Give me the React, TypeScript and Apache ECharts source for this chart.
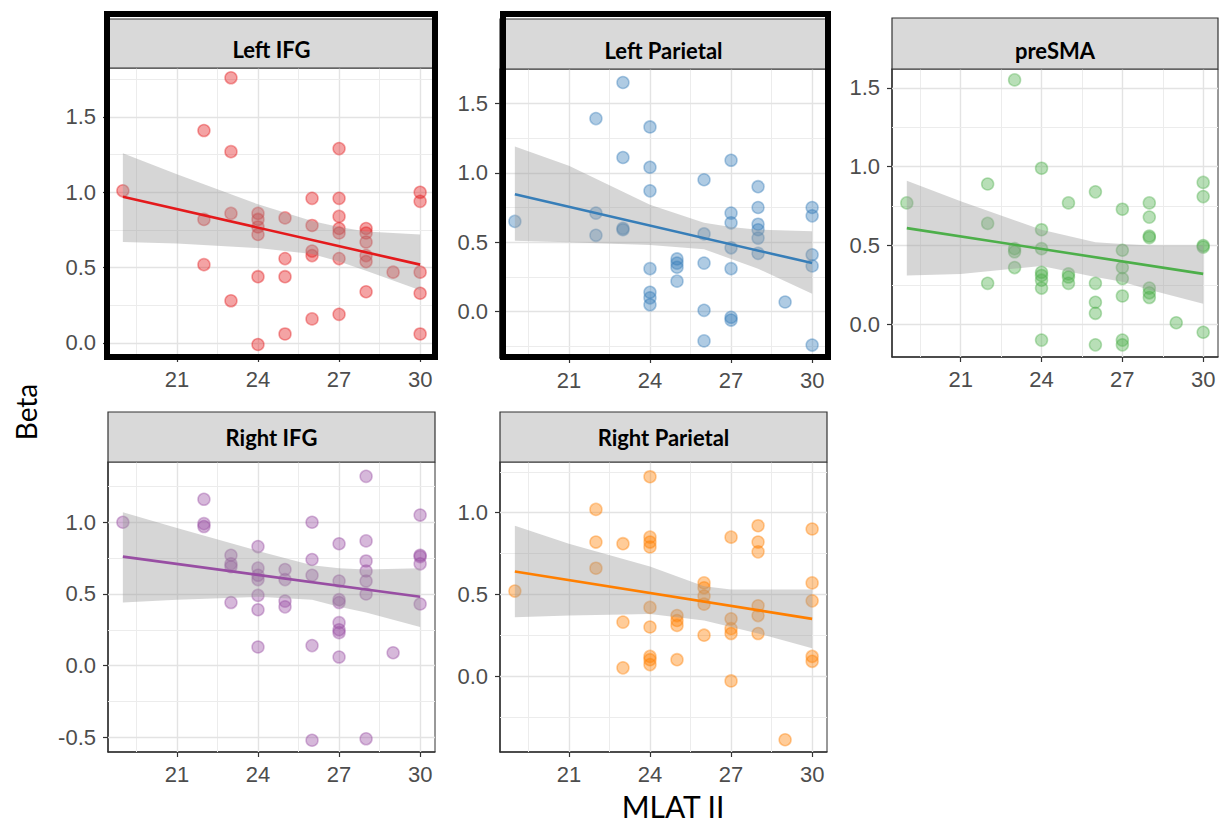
import React, { useEffect, useRef } from "react";
import * as echarts from "echarts";

// ---------------- DATA ----------------
const panelTitles = ["Left IFG", "Left Parietal", "preSMA", "Right IFG", "Right Parietal"];
const panelColors = ["#E41A1C", "#377EB8", "#4DAF4A", "#984EA3", "#FF7F00"];

// points: [MLAT II, Beta]
const leftIFG: number[][] = [
  [19, 1.01],
  [22, 1.41], [22, 0.82], [22, 0.52],
  [23, 1.76], [23, 1.27], [23, 0.86], [23, 0.28],
  [24, 0.86], [24, 0.82], [24, 0.77], [24, 0.72], [24, 0.44], [24, -0.01],
  [25, 0.83], [25, 0.56], [25, 0.44], [25, 0.06],
  [26, 0.96], [26, 0.78], [26, 0.61], [26, 0.58], [26, 0.16],
  [27, 1.29], [27, 0.96], [27, 0.84], [27, 0.76], [27, 0.73], [27, 0.56], [27, 0.19],
  [28, 0.76], [28, 0.73], [28, 0.67], [28, 0.58], [28, 0.54], [28, 0.34],
  [29, 0.47],
  [30, 1.0], [30, 0.94], [30, 0.47], [30, 0.33], [30, 0.06],
];
const leftParietal: number[][] = [
  [19, 0.65],
  [22, 1.39], [22, 0.71], [22, 0.55],
  [23, 1.65], [23, 1.11], [23, 0.6], [23, 0.59],
  [24, 1.33], [24, 1.04], [24, 0.87], [24, 0.31], [24, 0.14], [24, 0.1], [24, 0.05],
  [25, 0.38], [25, 0.35], [25, 0.32], [25, 0.22],
  [26, 0.95], [26, 0.56], [26, 0.35], [26, 0.01], [26, -0.21],
  [27, 1.09], [27, 0.71], [27, 0.64], [27, 0.46], [27, 0.31], [27, -0.04], [27, -0.06],
  [28, 0.9], [28, 0.75], [28, 0.63], [28, 0.59], [28, 0.53], [28, 0.42],
  [29, 0.07],
  [30, 0.75], [30, 0.69], [30, 0.41], [30, 0.33], [30, -0.24],
];
const preSMA: number[][] = [
  [19, 0.77],
  [22, 0.89], [22, 0.64], [22, 0.26],
  [23, 1.55], [23, 0.48], [23, 0.46], [23, 0.36],
  [24, 0.99], [24, 0.6], [24, 0.48], [24, 0.33], [24, 0.31], [24, 0.28], [24, 0.23], [24, -0.1],
  [25, 0.77], [25, 0.32], [25, 0.3], [25, 0.26],
  [26, 0.84], [26, 0.26], [26, 0.14], [26, 0.07], [26, -0.13],
  [27, 0.73], [27, 0.47], [27, 0.36], [27, 0.29], [27, 0.18], [27, -0.1], [27, -0.13],
  [28, 0.77], [28, 0.68], [28, 0.56], [28, 0.55], [28, 0.23], [28, 0.2], [28, 0.17],
  [29, 0.01],
  [30, 0.9], [30, 0.81], [30, 0.5], [30, 0.49], [30, -0.05],
];
const rightIFG: number[][] = [
  [19, 1.0],
  [22, 1.16], [22, 0.99], [22, 0.97],
  [23, 0.77], [23, 0.71], [23, 0.69], [23, 0.44],
  [24, 0.83], [24, 0.68], [24, 0.63], [24, 0.6], [24, 0.49], [24, 0.39], [24, 0.13],
  [25, 0.67], [25, 0.6], [25, 0.45], [25, 0.41],
  [26, 1.0], [26, 0.74], [26, 0.63], [26, 0.14], [26, -0.52],
  [27, 0.85], [27, 0.59], [27, 0.46], [27, 0.44], [27, 0.3], [27, 0.25], [27, 0.23], [27, 0.06],
  [28, 1.32], [28, 0.87], [28, 0.73], [28, 0.66], [28, 0.59], [28, 0.5], [28, -0.51],
  [29, 0.09],
  [30, 1.05], [30, 0.77], [30, 0.76], [30, 0.71], [30, 0.43],
];
const rightParietal: number[][] = [
  [19, 0.52],
  [22, 1.02], [22, 0.82], [22, 0.66],
  [23, 0.81], [23, 0.33], [23, 0.05],
  [24, 1.22], [24, 0.85], [24, 0.82], [24, 0.79], [24, 0.42], [24, 0.3], [24, 0.12], [24, 0.1], [24, 0.07],
  [25, 0.37], [25, 0.34], [25, 0.31], [25, 0.1],
  [26, 0.57], [26, 0.54], [26, 0.49], [26, 0.44], [26, 0.25],
  [27, 0.85], [27, 0.35], [27, 0.29], [27, 0.26], [27, -0.03],
  [28, 0.92], [28, 0.82], [28, 0.76], [28, 0.43], [28, 0.37], [28, 0.26],
  [29, -0.39],
  [30, 0.9], [30, 0.57], [30, 0.46], [30, 0.12], [30, 0.09],
];
const panelPoints = [leftIFG, leftParietal, preSMA, rightIFG, rightParietal];

// fitted regression lines (endpoints at x = 19 and x = 30)
const fitX = [19, 30];
const fitY = [
  [0.97, 0.52],
  [0.845, 0.35],
  [0.61, 0.32],
  [0.76, 0.48],
  [0.64, 0.35],
];

// confidence bands read at these x values
const bandX = [19, 21, 24, 26, 27, 28, 30];
const bandUpper = [
  [1.26, 1.12, 0.92, 0.81, 0.77, 0.74, 0.72],
  [1.19, 1.05, 0.77, 0.64, 0.61, 0.59, 0.58],
  [0.91, 0.78, 0.6, 0.52, 0.51, 0.5, 0.5],
  [1.07, 0.96, 0.8, 0.7, 0.68, 0.67, 0.68],
  [0.92, 0.81, 0.67, 0.55, 0.53, 0.53, 0.53],
];
const bandLower = [
  [0.67, 0.66, 0.63, 0.59, 0.54, 0.48, 0.35],
  [0.51, 0.5, 0.48, 0.45, 0.38, 0.31, 0.13],
  [0.31, 0.32, 0.37, 0.3, 0.27, 0.22, 0.13],
  [0.44, 0.46, 0.48, 0.46, 0.41, 0.37, 0.27],
  [0.36, 0.37, 0.38, 0.34, 0.3, 0.26, 0.17],
];

// axis ticks
const xTicks = [21, 24, 27, 30];
const xMinorGrid = [19.5, 22.5, 25.5, 28.5];
const yTicks = [
  [0, 0.5, 1.0, 1.5],
  [0, 0.5, 1.0, 1.5],
  [0, 0.5, 1.0, 1.5],
  [-0.5, 0, 0.5, 1.0],
  [0, 0.5, 1.0],
];
const yMinorGrid = [
  [0.25, 0.75, 1.25, 1.75],
  [-0.25, 0.25, 0.75, 1.25],
  [0.25, 0.75, 1.25],
  [-0.25, 0.25, 0.75, 1.25],
  [-0.25, 0.25, 0.75, 1.25],
];

// ---------------- LAYOUT ----------------
const X_RANGE = [18.45, 30.55];
const yRanges = [
  [-0.093, 1.825],
  [-0.333, 1.747],
  [-0.207, 1.619],
  [-0.602, 1.42],
  [-0.465, 1.31],
];
const gridBoxes = [
  { left: 108, top: 68, width: 327, height: 289 },
  { left: 500, top: 69, width: 327, height: 289 },
  { left: 892, top: 69, width: 326, height: 288 },
  { left: 108, top: 462, width: 327, height: 290 },
  { left: 500, top: 462, width: 327, height: 290 },
];
const stripBoxes = [
  { x: 108, y: 19, w: 327, h: 49, ty: 49 },
  { x: 500, y: 19, w: 327, h: 50, ty: 50 },
  { x: 892, y: 18, w: 326, h: 51, ty: 50 },
  { x: 108, y: 412, w: 327, h: 50, ty: 437 },
  { x: 500, y: 412, w: 327, h: 50, ty: 437 },
];

function rgba(hex: string, a: number) {
  const r = parseInt(hex.slice(1, 3), 16);
  const g = parseInt(hex.slice(3, 5), 16);
  const b = parseInt(hex.slice(5, 7), 16);
  return `rgba(${r},${g},${b},${a})`;
}

const TICK_FONT = "'Liberation Sans', Arial, sans-serif";
const TITLE_FONT = "Lato, 'Open Sans', sans-serif";

function buildOption() {
  const grid: any[] = [];
  const xAxis: any[] = [];
  const yAxis: any[] = [];
  const series: any[] = [];
  const graphic: any[] = [];

  panelTitles.forEach((title, i) => {
    const box = gridBoxes[i];
    grid.push({
      left: box.left,
      top: box.top,
      width: box.width,
      height: box.height,
      show: true,
      backgroundColor: "#ffffff",
      borderColor: "#333333",
      borderWidth: 1,
      containLabel: false,
    });
    xAxis.push({
      gridIndex: i,
      type: "value",
      min: X_RANGE[0],
      max: X_RANGE[1],
      axisLine: { show: true, onZero: false, lineStyle: { color: "#333333", width: 1.5 } },
      axisTick: { show: true, customValues: xTicks, length: 5, lineStyle: { color: "#333333", width: 1.2 } },
      axisLabel: {
        customValues: xTicks,
        margin: 11,
        color: "#4d4d4d",
        fontSize: 22,
        fontFamily: TICK_FONT,
      },
      splitLine: { show: false },
    });
    yAxis.push({
      gridIndex: i,
      type: "value",
      min: yRanges[i][0],
      max: yRanges[i][1],
      axisLine: { show: true, onZero: false, lineStyle: { color: "#333333", width: 1.5 } },
      axisTick: { show: true, customValues: yTicks[i], length: 5, lineStyle: { color: "#333333", width: 1.2 } },
      axisLabel: {
        customValues: yTicks[i],
        margin: 12,
        color: "#4d4d4d",
        fontSize: 22,
        fontFamily: TICK_FONT,
        formatter: (v: number) => v.toFixed(1),
      },
      splitLine: { show: false },
    });

    const color = panelColors[i];

    // gridlines (major + minor) through the axes
    const gridLines: any[] = [];
    xTicks.forEach((v) => gridLines.push({ xAxis: v, lineStyle: { color: "#e3e3e3", width: 1.4, type: "solid" } }));
    xMinorGrid.forEach((v) => gridLines.push({ xAxis: v, lineStyle: { color: "#ececec", width: 1, type: "solid" } }));
    yTicks[i].forEach((v) => gridLines.push({ yAxis: v, lineStyle: { color: "#e3e3e3", width: 1.4, type: "solid" } }));
    yMinorGrid[i].forEach((v) => gridLines.push({ yAxis: v, lineStyle: { color: "#ececec", width: 1, type: "solid" } }));

    // points
    series.push({
      type: "scatter",
      xAxisIndex: i,
      yAxisIndex: i,
      data: panelPoints[i],
      symbol: "circle",
      symbolSize: 12,
      z: 2,
      silent: true,
      itemStyle: {
        color: rgba(color, 0.5),
        borderColor: rgba(color, 0.5),
        borderWidth: 1.5,
      },
    });

    // confidence band
    const up = bandUpper[i];
    const lo = bandLower[i];
    series.push({
      type: "custom",
      xAxisIndex: i,
      yAxisIndex: i,
      data: [[bandX[0], up[0]]],
      z: 3,
      silent: true,
      renderItem: (_params: any, api: any) => {
        const upper = bandX.map((x, k) => api.coord([x, up[k]]));
        const lower = bandX.map((x, k) => api.coord([x, lo[k]])).reverse();
        return {
          type: "polygon",
          shape: { points: upper.concat(lower) },
          style: { fill: "rgba(153,153,153,0.4)", stroke: "none" },
        };
      },
    });

    // regression line + gridlines
    series.push({
      type: "line",
      xAxisIndex: i,
      yAxisIndex: i,
      data: fitX.map((x, k) => [x, fitY[i][k]]),
      showSymbol: false,
      symbol: "none",
      z: 4,
      silent: true,
      lineStyle: { color, width: 2.6 },
      markLine: {
        z: 1,
        silent: true,
        symbol: "none",
        label: { show: false },
        animation: false,
        data: gridLines,
      },
    });

    // strip
    const s = stripBoxes[i];
    graphic.push({
      type: "rect",
      shape: { x: s.x, y: s.y, width: s.w, height: s.h },
      style: { fill: "#d9d9d9", stroke: "#333333", lineWidth: 1.2 },
      z: 10,
    });
    graphic.push({
      type: "text",
      x: s.x + s.w / 2,
      y: s.ty,
      z: 11,
      style: {
        text: title,
        font: `bold 22px ${TITLE_FONT}`,
        fill: "#000000",
        align: "center",
        verticalAlign: "middle",
        textAlign: "center",
        textVerticalAlign: "middle",
      },
    });
  });

  // thick highlight frames around the first two panels
  graphic.push({
    type: "rect",
    shape: { x: 107, y: 14, width: 328, height: 343 },
    style: { fill: "none", stroke: "#000000", lineWidth: 6 },
    z: 20,
  });
  graphic.push({
    type: "rect",
    shape: { x: 503, y: 14, width: 325, height: 343 },
    style: { fill: "none", stroke: "#000000", lineWidth: 6 },
    z: 20,
  });

  // axis titles
  graphic.push({
    type: "text",
    x: 26,
    y: 412,
    rotation: Math.PI / 2,
    z: 20,
    style: {
      text: "Beta",
      font: `28px ${TITLE_FONT}`,
      fill: "#000000",
      align: "center",
      verticalAlign: "middle",
      textAlign: "center",
      textVerticalAlign: "middle",
    },
  });
  graphic.push({
    type: "text",
    x: 673,
    y: 806,
    z: 20,
    style: {
      text: "MLAT II",
      font: `30px ${TITLE_FONT}`,
      fill: "#000000",
      align: "center",
      verticalAlign: "middle",
      textAlign: "center",
      textVerticalAlign: "middle",
    },
  });

  return {
    animation: false,
    backgroundColor: "#ffffff",
    grid,
    xAxis,
    yAxis,
    series,
    graphic,
  };
}

export default function App() {
  const ref = useRef<HTMLDivElement>(null);
  useEffect(() => {
    if (!ref.current) return;
    const chart = echarts.init(ref.current, undefined, { renderer: "svg" });
    chart.setOption(buildOption() as any);
    return () => {
      chart.dispose();
    };
  }, []);
  return (
    <div
      ref={ref}
      style={{ position: "absolute", left: 0, top: 0, width: 1222, height: 827, background: "#ffffff" }}
    />
  );
}
